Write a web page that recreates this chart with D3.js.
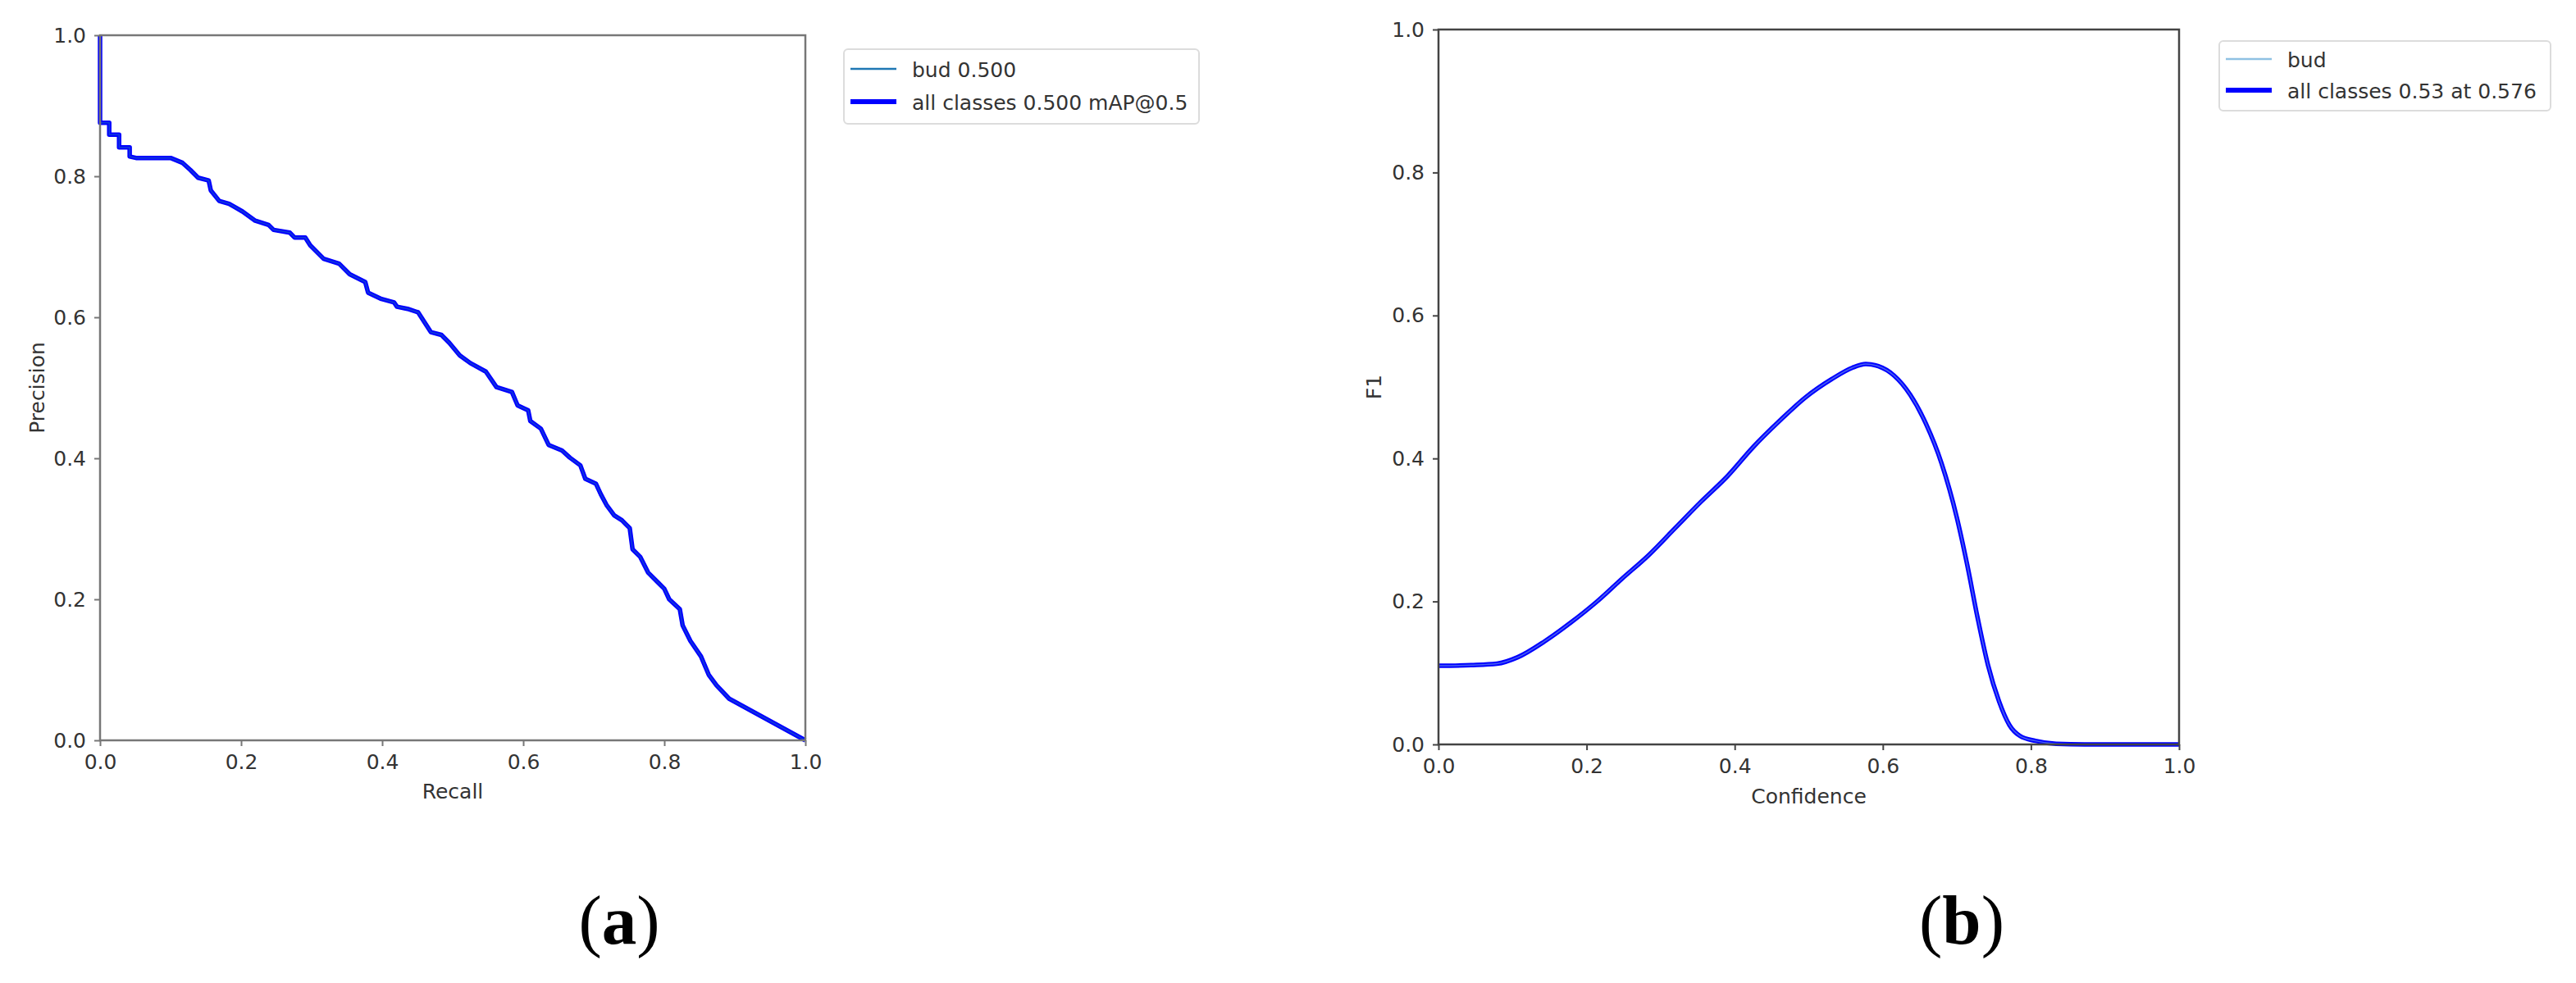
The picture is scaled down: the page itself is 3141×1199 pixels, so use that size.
<!DOCTYPE html>
<html>
<head>
<meta charset="utf-8">
<script src="https://cdn.jsdelivr.net/npm/d3@7"></script>
<style>
  html, body { margin: 0; padding: 0; background: #fff; }
  svg { display: block; }
  text { font-family: "DejaVu Sans", sans-serif; }
</style>
</head>
<body>
<svg id="chart" width="3141" height="1199"></svg>
<script>
// ---------- Data ----------
const tickValues = [0.0, 0.2, 0.4, 0.6, 0.8, 1.0];

// (a) Precision–Recall curve
const prRecall = [0, 0, 0.013, 0.013, 0.027, 0.027, 0.042, 0.042, 0.051, 0.10, 0.117, 0.128, 0.139, 0.154, 0.157, 0.169, 0.183, 0.202, 0.220, 0.239, 0.246, 0.269, 0.276, 0.291, 0.298, 0.317, 0.339, 0.354, 0.376, 0.380, 0.399, 0.417, 0.421, 0.436, 0.451, 0.469, 0.484, 0.495, 0.510, 0.525, 0.547, 0.562, 0.584, 0.592, 0.607, 0.610, 0.625, 0.636, 0.655, 0.666, 0.681, 0.688, 0.703, 0.710, 0.718, 0.729, 0.740, 0.751, 0.755, 0.766, 0.777, 0.792, 0.800, 0.807, 0.822, 0.826, 0.837, 0.852, 0.863, 0.874, 0.892, 1.0];
const prPrecision = [1.0, 0.876, 0.876, 0.859, 0.859, 0.841, 0.841, 0.828, 0.826, 0.826, 0.819, 0.809, 0.798, 0.794, 0.780, 0.765, 0.761, 0.750, 0.737, 0.731, 0.724, 0.720, 0.713, 0.713, 0.702, 0.683, 0.676, 0.661, 0.650, 0.635, 0.626, 0.621, 0.615, 0.612, 0.607, 0.579, 0.575, 0.564, 0.546, 0.535, 0.523, 0.501, 0.494, 0.475, 0.468, 0.453, 0.442, 0.419, 0.411, 0.401, 0.390, 0.371, 0.364, 0.349, 0.334, 0.319, 0.312, 0.301, 0.271, 0.260, 0.238, 0.223, 0.215, 0.200, 0.186, 0.163, 0.141, 0.119, 0.093, 0.078, 0.059, 0.0];

// (b) F1–Confidence curve
const f1Confidence = [0, 0.044, 0.079, 0.107, 0.143, 0.178, 0.213, 0.248, 0.284, 0.319, 0.354, 0.390, 0.425, 0.460, 0.495, 0.531, 0.559, 0.577, 0.594, 0.615, 0.637, 0.658, 0.679, 0.700, 0.714, 0.728, 0.742, 0.757, 0.771, 0.785, 0.806, 0.834, 0.884, 1.0];
const f1Values = [0.110, 0.111, 0.113, 0.122, 0.144, 0.170, 0.199, 0.232, 0.265, 0.302, 0.339, 0.375, 0.416, 0.452, 0.485, 0.511, 0.527, 0.532, 0.529, 0.516, 0.489, 0.449, 0.394, 0.317, 0.251, 0.177, 0.111, 0.060, 0.027, 0.012, 0.005, 0.001, 0.0, 0.0];

const legendA = ["bud 0.500", "all classes 0.500 mAP@0.5"];
const legendB = ["bud", "all classes 0.53 at 0.576"];
const axisLabelsA = ["Recall", "Precision"];
const axisLabelsB = ["Confidence", "F1"];
const captions = ["a", "b"];

// ---------- Drawing ----------
const svg = d3.select("#chart");
const fmt = d3.format(".1f");

function panel(cfg) {
  const x = d3.scaleLinear().domain([0, 1]).range([cfg.x0, cfg.x1]);
  const y = d3.scaleLinear().domain([0, 1]).range([cfg.y1, cfg.y0]);
  const g = svg.append("g");

  // curves (thin class line under thick all-classes line)
  const pts = cfg.xs.map((v, i) => [v, cfg.ys[i]]);
  const line = d3.line().x(d => x(d[0])).y(d => y(d[1])).curve(cfg.curve);
  g.append("path").attr("d", line(pts)).attr("fill", "none")
    .attr("stroke", "#0000ff").attr("stroke-width", 5.5).attr("stroke-linejoin", "round");
  g.append("path").attr("d", line(pts)).attr("fill", "none")
    .attr("stroke", cfg.budColor).attr("stroke-width", 1.5).attr("opacity", 0.5);

  // axes
  const xa = g.append("g").attr("transform", `translate(0,${cfg.y1})`)
    .call(d3.axisBottom(x).tickValues(tickValues).tickFormat(fmt).tickSizeOuter(0).tickSize(7).tickPadding(10));
  const ya = g.append("g").attr("transform", `translate(${cfg.x0},0)`)
    .call(d3.axisLeft(y).tickValues(tickValues).tickFormat(fmt).tickSizeOuter(0).tickSize(7).tickPadding(10));
  [xa, ya].forEach(a => {
    a.select(".domain").remove();
    a.selectAll("line").attr("stroke", cfg.spine).attr("stroke-width", 2);
    a.selectAll("text").attr("font-size", 25).attr("fill", "#333")
      .attr("font-family", "DejaVu Sans, sans-serif");
  });
  xa.selectAll("text").attr("dy", "0.71em");

  // frame
  g.append("rect").attr("x", cfg.x0).attr("y", cfg.y0)
    .attr("width", cfg.x1 - cfg.x0).attr("height", cfg.y1 - cfg.y0)
    .attr("fill", "none").attr("stroke", cfg.spine).attr("stroke-width", 2.5);

  // axis labels
  g.append("text").attr("x", (cfg.x0 + cfg.x1) / 2).attr("y", cfg.xLabelY)
    .attr("text-anchor", "middle").attr("font-size", 25).attr("fill", "#333")
    .text(cfg.labels[0]);
  g.append("text").attr("transform", `translate(${cfg.yLabelX},${(cfg.y0 + cfg.y1) / 2}) rotate(-90)`)
    .attr("text-anchor", "middle").attr("font-size", 25).attr("fill", "#333")
    .text(cfg.labels[1]);

  // legend
  const L = cfg.legend;
  g.append("rect").attr("x", L.x).attr("y", L.y).attr("width", L.w).attr("height", L.h)
    .attr("rx", 5).attr("fill", "#fff").attr("stroke", "#dcdcdc").attr("stroke-width", 2);
  const rows = [
    { color: cfg.budColor, w: 2.5, text: cfg.legendText[0] },
    { color: "#0000ff", w: 6, text: cfg.legendText[1] }
  ];
  rows.forEach((r, i) => {
    const ly = L.y + L.first + i * L.gap;
    g.append("line").attr("x1", L.x + 8).attr("x2", L.x + 64).attr("y1", ly).attr("y2", ly)
      .attr("stroke", r.color).attr("stroke-width", r.w);
    g.append("text").attr("x", L.x + 83).attr("y", ly + 10)
      .attr("font-size", 25).attr("fill", "#333").text(r.text);
  });

  // caption
  const cap = svg.append("text").attr("x", cfg.capX).attr("y", 1151)
    .attr("text-anchor", "middle").attr("font-size", 85)
    .attr("font-family", "Liberation Serif, Times New Roman, serif").attr("fill", "#000");
  cap.append("tspan").attr("font-family", "Liberation Serif, serif").text("(");
  cap.append("tspan").attr("font-family", "Liberation Serif, serif").attr("font-weight", "bold").text(cfg.caption);
  cap.append("tspan").attr("font-family", "Liberation Serif, serif").text(")");
}

panel({
  x0: 122, x1: 982, y0: 43, y1: 903,
  xs: prRecall, ys: prPrecision, curve: d3.curveLinear,
  budColor: "#1f77b4", spine: "#777",
  labels: axisLabelsA, xLabelY: 974, yLabelX: 54,
  legend: { x: 1029, y: 60, w: 433, h: 91, first: 24, gap: 40 },
  legendText: legendA, caption: captions[0], capX: 755
});

panel({
  x0: 1754, x1: 2657, y0: 36, y1: 908,
  xs: f1Confidence, ys: f1Values, curve: d3.curveMonotoneX,
  budColor: "#8fc1e3", spine: "#444",
  labels: axisLabelsB, xLabelY: 980, yLabelX: 1684,
  legend: { x: 2706, y: 50, w: 404, h: 85, first: 22, gap: 38 },
  legendText: legendB, caption: captions[1], capX: 2392
});
</script>
</body>
</html>
